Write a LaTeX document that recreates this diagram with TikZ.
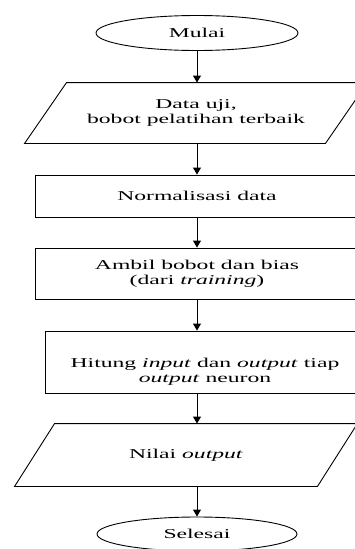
\documentclass[tikz,border=0pt]{standalone}
\usepackage{fontspec}
\setmainfont{Liberation Serif}[FakeStretch=1.75, ItalicFeatures={FakeStretch=1.75}]
\usetikzlibrary{shapes.geometric,arrows.meta}
\tikzset{
  terminal/.style={draw, ellipse, minimum width=202pt, minimum height=35pt, inner sep=0pt},
  proses/.style={draw, rectangle, align=center, inner sep=0pt},
  masukan/.style={rectangle, align=center, inner sep=0pt},
  arus/.style={-{Triangle[width=8pt,length=7pt]}, line width=1pt}
}
\begin{document}
\begin{tikzpicture}[x=1pt, y=1pt, line width=0.9pt, font=\fontsize{13.5}{15}\selectfont]
\useasboundingbox (0,0) rectangle (355,-549);
\clip (0,0) rectangle (355,-549);

\node[terminal] (mulai) at (197,-33) {Mulai};
\node[masukan, minimum width=300pt, minimum height=60pt] (datauji) at (196,-113) {Data uji,\\ bobot pelatihan terbaik};
\node[proses, minimum width=324pt, minimum height=42pt] (norm) at (197,-196) {Normalisasi data};
\node[proses, minimum width=324pt, minimum height=51pt] (ambil) at (197,-273.5) {Ambil bobot dan bias\\ (dari \textit{training})};
\node[proses, minimum width=320pt, text height=51pt, text depth=11pt] (hitung) at (205,-362) {Hitung \textit{input} dan \textit{output} tiap\\ \textit{output} neuron};
\node[masukan, minimum width=302pt, minimum height=62pt] (nilai) at (186,-455) {Nilai \textit{output}};
\node[terminal, minimum width=200pt, minimum height=34pt] (selesai) at (197,-534) {Selesai};

% sisi miring data masukan/keluaran
\foreach \n/\s in {datauji/21, nilai/20}
    \draw ([xshift=-\s pt]\n.south west) -- ([xshift=-\s pt]\n.south east)
       -- ([xshift=\s pt]\n.north east) -- ([xshift=\s pt]\n.north west) -- cycle;

\foreach \a/\b in {mulai/datauji, datauji/norm, norm/ambil, ambil/hitung, hitung/nilai, nilai/selesai}
    \draw[arus] (\a.south -| mulai) -- (\b.north -| mulai);
\end{tikzpicture}
\end{document}
